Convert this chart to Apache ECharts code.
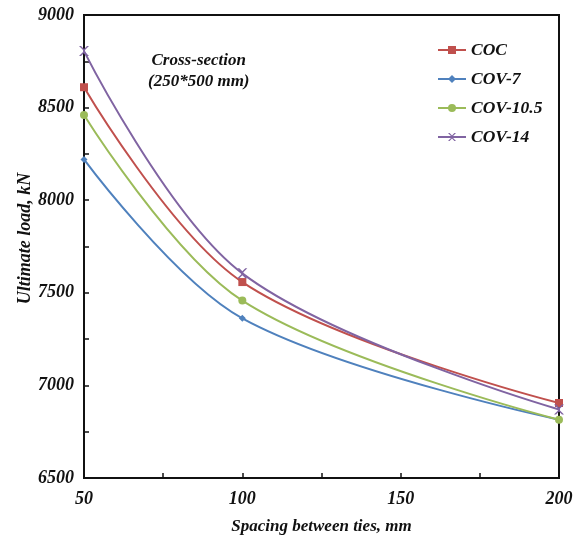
<!DOCTYPE html>
<html><head><meta charset="utf-8">
<script src="https://cdn.jsdelivr.net/npm/echarts@6/dist/echarts.min.js"></script>
<style>html,body{margin:0;padding:0;background:#fff}#c{width:585px;height:535px}</style>
</head><body><div id="c"></div>
<script>
const spacing = [50, 100, 200];
const seriesNames = ['COC', 'COV-7', 'COV-10.5', 'COV-14'];
const coc = [8610, 7558, 6905];
const cov7 = [8220, 7362, 6815];
const cov105 = [8460, 7458, 6815];
const cov14 = [8805, 7605, 6870];
const xTicks = [50, 100, 150, 200];
const yTicks = [6500, 7000, 7500, 8000, 8500, 9000];

const colors = ['#C0504D', '#4F81BD', '#9BBB59', '#8064A2'];
const symbols = ['rect', 'diamond', 'circle',
  'path://M0,0 L2,0 L5,3 L8,0 L10,0 L6,4 L6,6 L10,10 L8,10 L5,7 L2,10 L0,10 L4,6 L4,4 Z'];
const sizes = [8, 7, 8, 10];
const values = [coc, cov7, cov105, cov14];
const font = {fontFamily: 'Liberation Serif', fontWeight: 'bold', fontStyle: 'italic', color: '#111'};

const chart = echarts.init(document.getElementById('c'));
chart.setOption({
  animation: false,
  grid: {left: 84, right: 26, top: 15, bottom: 57, show: true, borderColor: '#111', borderWidth: 2,
         containLabel: false, outerBoundsMode: 'none'},
  legend: {
    orient: 'vertical', left: 432, top: 36, itemGap: 11, itemWidth: 28, itemHeight: 10,
    data: seriesNames,
    textStyle: Object.assign({}, font, {fontSize: 17.5})
  },
  graphic: [{
    type: 'text', left: 148, top: 50,
    style: {text: 'Cross-section\n(250*500 mm)', font: 'italic bold 17px "Liberation Serif"', fill: '#111', textAlign: 'center', lineHeight: 21}
  }],
  xAxis: {
    type: 'value', min: 50, max: 200, interval: 50,
    axisLine: {lineStyle: {color: '#111', width: 2}},
    axisTick: {inside: true, length: 5, lineStyle: {color: '#111', width: 1.5}},
    minorTick: {show: true, splitNumber: 2, length: 5, lineStyle: {color: '#111', width: 1.5}},
    splitLine: {show: false},
    axisLabel: Object.assign({}, font, {fontSize: 18, margin: 12, formatter: v => xTicks.includes(v) ? String(v) : ''}),
    name: 'Spacing between ties, mm', nameLocation: 'middle', nameGap: 40, nameMoveOverlap: false,
    nameTextStyle: Object.assign({}, font, {fontSize: 17})
  },
  yAxis: {
    type: 'value', min: 6500, max: 9000, interval: 500,
    axisLine: {lineStyle: {color: '#111', width: 2}},
    axisTick: {inside: true, length: 5, lineStyle: {color: '#111', width: 1.5}},
    minorTick: {show: true, splitNumber: 2, length: 5, lineStyle: {color: '#111', width: 1.5}},
    splitLine: {show: false},
    axisLabel: Object.assign({}, font, {fontSize: 18, margin: 10, formatter: v => yTicks.includes(v) ? String(v) : ''}),
    name: 'Ultimate load, kN', nameLocation: 'middle', nameGap: 50, nameMoveOverlap: false,
    nameTextStyle: Object.assign({}, font, {fontSize: 18, padding: [0, 0, 0, 16]})
  },
  series: seriesNames.map((n, i) => ({
    name: n, type: 'line', smooth: 0.35,
    data: spacing.map((x, j) => [x, values[i][j]]),
    symbol: symbols[i], symbolSize: sizes[i], showSymbol: true,
    lineStyle: {color: colors[i], width: 2},
    itemStyle: {color: colors[i]},
    z: 3 + i
  }))
});
</script></body></html>
